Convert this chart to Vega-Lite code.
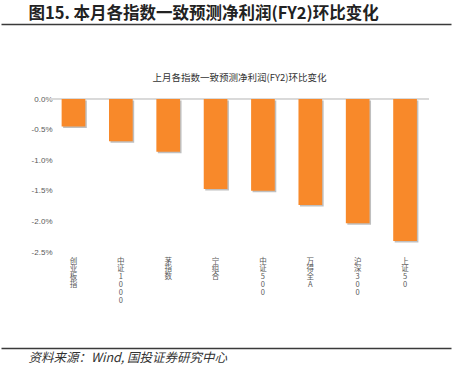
{
  "$schema": "https://vega.github.io/schema/vega-lite/v6.json",
  "width": 450,
  "height": 153,
  "autosize": {"type": "none"},
  "padding": {"left": 1, "top": 99, "right": 2, "bottom": 120},
  "background": "white",
  "config": {"view": {"stroke": null}, "font": "Noto Sans CJK SC"},
  "data": {
    "values": [
      {"name": "创业板指", "value": -0.45},
      {"name": "中证1000", "value": -0.69},
      {"name": "茅指数", "value": -0.86},
      {"name": "宁组合", "value": -1.47},
      {"name": "中证500", "value": -1.5},
      {"name": "万得全A", "value": -1.73},
      {"name": "沪深300", "value": -2.03},
      {"name": "上证50", "value": -2.32}
    ]
  },
  "resolve": {"axis": {"x": "independent", "y": "independent"}},
  "layer": [
    {
      "mark": {"type": "rule", "color": "#d9d9d9", "strokeWidth": 1},
      "encoding": {
        "x": {"datum": "创业板指", "type": "nominal", "bandPosition": -0.5, "axis": null},
        "x2": {"datum": "上证50", "bandPosition": 1.5},
        "y": {"datum": 0, "type": "quantitative", "axis": null}
      }
    },
    {
      "mark": {"type": "bar", "color": "#7f7f7f", "opacity": 0.5, "xOffset": 1.5, "yOffset": 1.5, "y2Offset": 1.5},
      "encoding": {
        "x": {
          "field": "name", "type": "nominal", "sort": null,
          "scale": {"domain": ["创业板指", "中证1000", "茅指数", "宁组合", "中证500", "万得全A", "沪深300", "上证50"], "paddingInner": 0.5, "paddingOuter": 1.168, "align": 0.64},
          "axis": {
            "orient": "top", "offset": 75, "domain": true, "domainColor": "#3a3a3a", "domainWidth": 1.5,
            "ticks": false, "labels": false,
            "title": "图15. 本月各指数一致预测净利润(FY2)环比变化",
            "titleX": 27, "titleY": -11, "titleAnchor": null, "titleAlign": "left", "titleBaseline": "middle",
            "titleFontSize": 16.5, "titleFontWeight": "bold", "titleColor": "#222222", "titleFont": "Noto Sans CJK SC"
          }
        },
        "y": {"field": "value", "type": "quantitative", "axis": null, "scale": {"domain": [-2.5, 0], "nice": false, "zero": true}}
      }
    },
    {
      "mark": {"type": "bar", "color": "#F8892A"},
      "encoding": {
        "x": {
          "field": "name", "type": "nominal", "sort": null,
          "axis": {
            "orient": "bottom", "offset": 96, "domain": true, "domainColor": "#3a3a3a", "domainWidth": 1.5,
            "ticks": false, "labelAngle": 0, "labelPadding": -91, "labelBaseline": "top",
            "labelExpr": "split(datum.label, '')", "labelFontSize": 7.5, "labelLineHeight": 7.8,
            "labelColor": "#595959", "labelFont": "Noto Sans CJK SC", "labelBound": false, "labelOverlap": false,
            "title": "资料来源：Wind, 国投证券研究中心",
            "titleX": 27, "titleY": 9, "titleAnchor": null, "titleAlign": "left", "titleBaseline": "middle",
            "titleFontStyle": "italic", "titleFontWeight": "normal", "titleFontSize": 12.5, "titleColor": "#333333"
          }
        },
        "y": {
          "field": "value", "type": "quantitative",
          "scale": {"domain": [-2.5, 0], "nice": false, "zero": true},
          "axis": {
            "orient": "left", "offset": -55, "domain": false, "ticks": false, "grid": false, "labelPadding": 4,
            "values": [0, -0.5, -1, -1.5, -2, -2.5],
            "labelExpr": "replace(format(datum.value, '.1f'), '−', '-') + '%'",
            "labelFont": "Liberation Sans", "labelFontSize": 8, "labelColor": "#595959",
            "title": "上月各指数一致预测净利润(FY2)环比变化",
            "titleAngle": 0, "titleX": 183, "titleY": -22, "titleAlign": "center", "titleBaseline": "middle",
            "titleFontSize": 9.5, "titleFontWeight": "normal", "titleColor": "#333333", "titleFont": "Noto Sans CJK SC"
          }
        }
      }
    }
  ]
}
